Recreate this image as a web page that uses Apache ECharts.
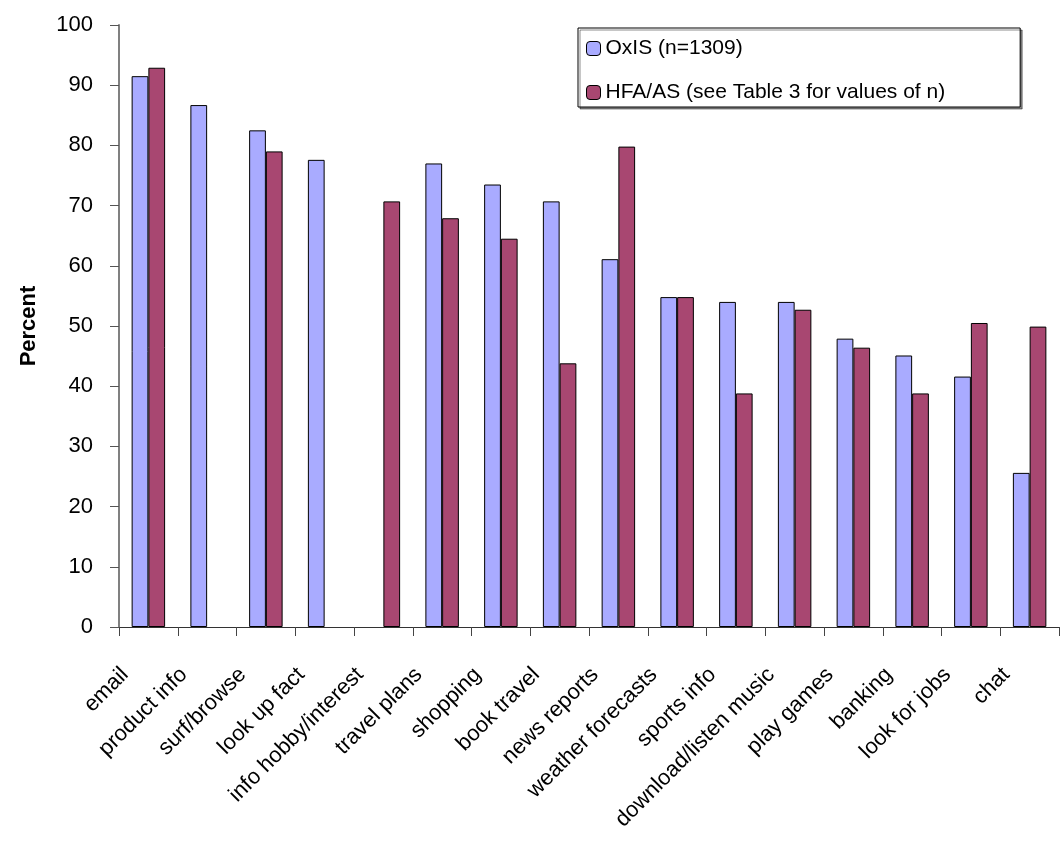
<!DOCTYPE html>
<html>
<head>
<meta charset="utf-8">
<script src="https://cdn.jsdelivr.net/npm/echarts@6/dist/echarts.min.js"></script>
<style>
html,body{margin:0;padding:0;background:#fff;}
#chart{width:1060px;height:846px;}
</style>
</head>
<body>
<div id="chart"></div>
<script>
var categories = ['email','product info','surf/browse','look up fact','info hobby/interest','travel plans','shopping','book travel','news reports','weather forecasts','sports info','download/listen music','play games','banking','look for jobs','chat'];
var oxisValues = [91.5, 86.7, 82.5, 77.6, null, 77.0, 73.5, 70.7, 61.1, 54.8, 54.0, 54.0, 47.9, 45.1, 41.6, 25.6];
var hfaValues  = [92.9, null, 79.0, null, 70.7, 67.9, 64.5, 43.8, 79.8, 54.8, 38.8, 52.7, 46.4, 38.8, 50.5, 49.9];
var yTicks = {min: 0, max: 100, interval: 10};
var seriesNames = ['OxIS (n=1309)', 'HFA/AS (see Table 3 for values of n)'];

var FONT = '"Liberation Sans", Arial, sans-serif';
var chart = echarts.init(document.getElementById('chart'), null, {renderer: 'canvas'});
chart.setOption({
  backgroundColor: '#ffffff',
  animation: false,
  textStyle: {fontFamily: FONT},
  grid: {left: 119, right: 1, top: 25, bottom: 219, containLabel: false},
  legend: {
    orient: 'vertical',
    left: 578,
    top: 28,
    padding: [10, 75, 4, 8],
    itemGap: 23,
    itemWidth: 14,
    itemHeight: 14,
    borderColor: '#000',
    borderWidth: 1,
    backgroundColor: '#fff',
    shadowColor: 'rgba(0,0,0,0.45)',
    shadowOffsetX: 2,
    shadowOffsetY: 2,
    shadowBlur: 0,
    textStyle: {fontFamily: FONT, fontSize: 21, color: '#000'},
    itemStyle: {borderColor: '#000', borderWidth: 1},
    data: seriesNames
  },
  xAxis: {
    type: 'category',
    data: categories,
    axisLine: {lineStyle: {color: '#333', width: 1}},
    axisTick: {show: true, length: 9, lineStyle: {color: '#444'}},
    axisLabel: {
      interval: 0,
      rotate: 45,
      margin: 21,
      padding: [0, 33, 0, 0],
      fontSize: 22,
      fontFamily: FONT,
      color: '#000'
    }
  },
  yAxis: {
    type: 'value',
    min: yTicks.min,
    max: yTicks.max,
    interval: yTicks.interval,
    name: 'Percent',
    nameLocation: 'middle',
    nameGap: 79,
    nameTextStyle: {fontSize: 22, fontWeight: 'bold', fontFamily: FONT, color: '#000'},
    axisLine: {show: true, lineStyle: {color: '#808080', width: 2}},
    axisTick: {show: true, length: 9, lineStyle: {color: '#555'}},
    splitLine: {show: false},
    axisLabel: {margin: 26, fontSize: 22, fontFamily: FONT, color: '#000'}
  },
  series: [
    {
      name: seriesNames[0],
      type: 'bar',
      data: oxisValues,
      barGap: '0%',
      barCategoryGap: '43%',
      itemStyle: {color: '#a9abff', borderColor: '#000', borderWidth: 1}
    },
    {
      name: seriesNames[1],
      type: 'bar',
      data: hfaValues,
      barGap: '0%',
      barCategoryGap: '43%',
      itemStyle: {color: '#a84771', borderColor: '#000', borderWidth: 1}
    }
  ]
});
</script>
</body>
</html>
